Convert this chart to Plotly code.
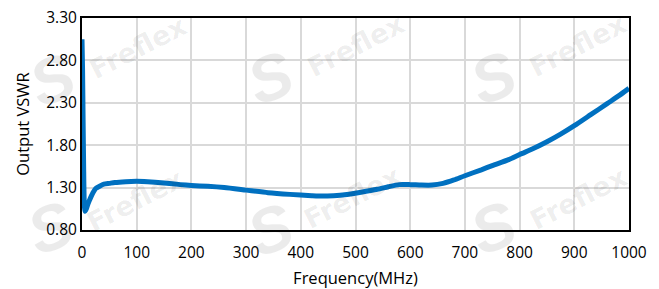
import plotly.graph_objects as go

freq_mhz = [0, 1, 2, 3, 4, 5.5, 8, 10, 13, 17, 20, 25, 33, 40, 50, 60, 80, 100, 120, 150,
            180, 200, 230, 260, 300, 340, 380, 420, 440, 460, 480, 510, 540, 560, 580,
            600, 620, 640, 660, 680, 700, 730, 750, 780, 800, 825, 850, 875, 900, 930, 960,
            983, 1000]
vswr = [3.05, 2.70, 2.10, 1.55, 1.15, 1.02, 1.05, 1.09, 1.14, 1.20, 1.24, 1.29, 1.32, 1.34, 1.35,
        1.36, 1.37, 1.375, 1.37, 1.355, 1.335, 1.325, 1.315, 1.30, 1.27, 1.24, 1.22, 1.205, 1.20,
        1.205, 1.215, 1.245, 1.28, 1.31, 1.335, 1.335, 1.33, 1.33, 1.35, 1.39, 1.44, 1.51,
        1.56, 1.63, 1.69, 1.76, 1.84, 1.93, 2.03, 2.16, 2.29, 2.39, 2.47]

x_ticks = [0, 100, 200, 300, 400, 500, 600, 700, 800, 900, 1000]
y_ticks = [0.80, 1.30, 1.80, 2.30, 2.80, 3.30]
y_tick_labels = ["0.80", "1.30", "1.80", "2.30", "2.80", "3.30"]

fig = go.Figure()
fig.add_trace(go.Scatter(x=freq_mhz, y=vswr, mode="lines",
                         line=dict(color="#0070c0", width=5, shape="spline", smoothing=0.6),
                         showlegend=False, hoverinfo="skip"))

# plot area in pixels
L, R, T, B = 82, 629, 18, 230
def fx(px):
    return (px - L) / (R - L)
def fy(py):
    return (B - py) / (B - T)

# watermarks
wm_color = "rgba(0,0,0,0.08)"
text_pos = [(138, 48), (356, 46), (578, 46), (135, 200), (352, 197), (578, 198)]
logo_pos = [(52, 80), (270, 78), (493, 78), (50, 228), (270, 230), (493, 228)]
for (px, py) in text_pos:
    fig.add_annotation(x=fx(px), y=fy(py), xref="paper", yref="paper",
                       xanchor="center", yanchor="middle",
                       text="<b>Freflex</b>", showarrow=False, textangle=-27,
                       font=dict(family="DejaVu Sans", size=27, color=wm_color))
for (px, py) in logo_pos:
    fig.add_annotation(x=fx(px), y=fy(py), xref="paper", yref="paper",
                       xanchor="center", yanchor="middle",
                       text="<b><i>S</i></b>", showarrow=False, textangle=-20,
                       font=dict(family="Liberation Sans", size=64, color=wm_color))

axis_font = dict(family="Open Sans", size=15.5, color="#000000")
title_font = dict(family="Open Sans", size=16.5, color="#000000")
fig.update_layout(
    width=659, height=289,
    margin=dict(l=L, r=659 - R, t=T, b=289 - B),
    paper_bgcolor="white", plot_bgcolor="white",
    xaxis=dict(range=[0, 1000], tickvals=x_ticks, showgrid=True, gridcolor="#d9d9d9",
               gridwidth=2, showline=True, linecolor="black", linewidth=2, mirror=True,
               ticks="", tickfont=axis_font, zeroline=False, automargin=False,
               ticklabelstandoff=7,
               title=dict(text="Frequency(MHz)", font=title_font, standoff=12)),
    yaxis=dict(range=[0.80, 3.30], tickvals=y_ticks, ticktext=y_tick_labels, showgrid=True,
               gridcolor="#d9d9d9", gridwidth=2, showline=True, linecolor="black",
               linewidth=2, mirror=True, ticks="", tickfont=axis_font, zeroline=False,
               automargin=False,
               title=dict(text="Output VSWR", font=title_font, standoff=12)),
)

fig.write_html("out.html", config={"displayModeBar": False},
               post_script="document.body.style.margin='0';document.body.style.padding='0';")
